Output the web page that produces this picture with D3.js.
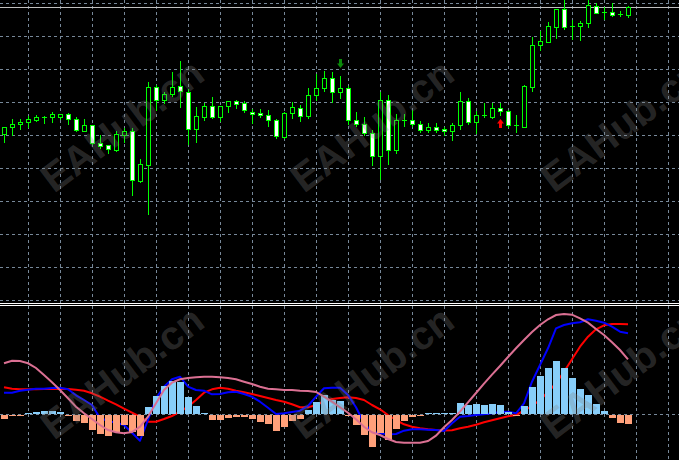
<!DOCTYPE html>
<html><head><meta charset="utf-8">
<script src="https://cdn.jsdelivr.net/npm/d3@7"></script>
<style>html,body{margin:0;padding:0;background:#000;overflow:hidden}</style>
</head><body>
<script>
// ---- candle data (price units) ----
const opens  = [166.3,172.7,175.7,177.7,180.3,183,182.7,182.7,186,180.7,169.3,174.7,156.7,154.7,150.3,165.3,168.7,119,134.7,212.7,199.7,205.7,213.7,207.7,170.7,183.3,193.7,182.7,193.7,198.7,196.7,187.7,186.7,184.7,179.7,162.7,186.7,191.7,183.7,204.7,211.7,221.7,207.7,211.7,179.7,175.7,166.7,143.7,199.7,149.7,179.7,179.7,175.7,169.7,172.7,171.3,168.7,174.7,198.7,178.3,184.7,183.3,191.7,188.7,174.7,173.3,213.3,254.7,258.3,273.3,290.7,273.7,273.7,276.7,293.7,287.7,287.7,285.7,284.7];
const highs  = [173,181,181,184,185,184,188,186.3,187,182.7,181,175,164.7,154.7,169,171.7,171.7,140.7,217.7,215,207.7,228,239,210.7,192.7,196.7,203,194,198.7,199.7,198.7,190.7,190.7,189.7,180.7,187.7,197.7,194.7,211.7,226,229,227.7,223.7,213.7,187.7,182.7,169.7,207.7,204.7,185.7,185.7,189.7,178.7,176.7,176.7,172.7,176.7,207.7,201.7,188.7,196.7,196.7,196.7,190,184.7,215,263,268.7,277.7,290.7,300,279.7,278.7,300,296.7,292.7,296.7,288.7,293.7];
const lows   = [158.3,165,171.3,173.3,178.7,177.3,178.3,181,176,168.7,169.3,156.3,152.3,146.7,148.7,157.7,105,117.7,85.7,190,196.7,204,193.3,155.7,158.3,179.7,181.7,178.7,187.7,192.3,187.7,176.7,182.7,173.7,161.7,161.7,181.7,178.7,181.7,199.7,208.7,197.7,201.7,175.7,173.7,164.7,134.7,120.7,135.7,146.7,173.7,173.7,167.7,167.7,167.7,165,160,170.7,176.3,166.7,182.7,181.7,184.7,173.3,168.3,172.7,209.3,249.7,257.7,261.7,270.7,260.7,259.7,272.7,286.7,280.7,283.7,283.7,282.7];
const closes = [172.7,175.7,178,181,183,183,186,185.7,180.7,169.7,174.7,156.7,154.3,150.7,165.7,168.7,119.7,135.7,212.7,199.7,205.7,212.7,208.7,170.7,183.7,193.7,182.7,193.7,198.7,196.3,189.7,185.7,184.7,179.7,163.7,186.7,192.7,183.7,204.7,211.7,221.7,207.7,211.7,179.7,175.7,166.7,143.7,199.7,149.7,179.7,179.7,175.7,169.7,172.7,169.7,169.3,174.7,199.3,178.3,184.7,184.7,191.7,188.7,174.7,174.7,214,254.7,258.7,273.7,290.7,272.7,273.7,276.7,294.7,286.7,287.7,284.7,285.7,292.7];

// ---- indicator data ----
const histValues = [-5.3,-2.3,-0.7,1,1.7,3.3,3.3,2,-2,-7.3,-9.3,-16.3,-20.3,-22.3,-18.3,-11.3,-18.3,-22.3,6.7,18.3,27.7,32.7,31.7,16.7,7.7,1,-6.3,-6.3,-4.3,-3.3,-3.3,-5.3,-8.3,-10.3,-17.3,-13.3,-7.3,-5.3,3.7,11.7,18.7,14,13,-1,-11.3,-21.3,-33,-19.3,-26.3,-15.3,-7.3,-3.3,-1.3,1,1,0.7,1.3,11.3,9.3,10.3,9,10.3,9,2.3,-2.3,8.3,27.3,38.3,46.3,53.3,46.3,36.3,25.3,19.3,10.3,3.3,-4.3,-9.3,-10.3];
const blueLine = [21.3,21.3,23.3,24.3,25.3,25.3,26,26.3,24.7,18.7,14,9,-4,-7,-8.7,-11,-18.7,-26.7,-6,15.7,27.3,34.7,37.3,27.3,24,23.3,19.7,20,21.7,22.3,20,17.3,12.3,6.3,0,0.7,2,3.3,8,17.3,25.7,26.3,26.3,19,6.7,-9.3,-17.7,-19.3,-20.3,-20,-16.7,-15.3,-15.3,-15.7,-16,-17,-9.3,-2.7,-2,-1,-0.3,0.7,2,2.3,0.7,10.7,32.3,49,65.7,85.7,89,90.7,91.7,94.7,93.3,91.3,87.3,82.3,80.7];
const redLine = [26.7,25.3,24.7,24.7,24.7,25,25,25.3,25,24.3,23.3,20.7,17.3,13.3,9.7,5.3,1.3,-2.7,-7.7,-7.7,-5,-2,2.3,7.3,14,21.3,24.7,26.3,25.3,23.3,21.7,20,18,16,14,12.3,9.7,6.7,6.7,8.7,13,15,16,16.7,16,14,9,4.7,-1,-6,-10.3,-12.7,-14.3,-15.3,-16,-16.5,-16.3,-14.3,-12.7,-10.7,-8.3,-6.3,-4.3,-2.3,-1,3.3,8,14,22,30.7,42.3,54.7,67.3,77.3,84.7,88.7,90,90,89.7];
const pinkLine = [50.7,53.3,53,50.7,46,39,31.7,24,15.7,7.3,0.7,-5,-11,-16,-18.3,-19.3,-18,-12.7,-2.7,10.7,24,31.3,34.7,36,36.7,37.3,37.3,36.8,36,34.7,32.3,30,27.3,25.3,24.7,24,24,23.3,23,22,17.3,12.3,6.7,1.3,-5.3,-12.7,-18.3,-21,-25,-28,-28.7,-28.7,-28.7,-27,-21.7,-13.3,-6,2.3,11.7,21,30.3,39.3,48,57,65.7,74,82,89,94.7,99,100,99.3,95.7,91.3,85,79,71.7,64,54.7];

// signal arrows: [candle index, price at arrow tip]
const downArrows = [[42, 232]];
const upArrows = [[62, 181]];
const watermarkText = "EAHub.cn";

const W = 679, H = 460;
const svg = d3.select("body").append("svg").attr("width", W).attr("height", H)
  .style("display","block").style("background","#000");

const n = closes.length;
const x = d3.scaleLinear().domain([0, n - 1]).range([4, 4 + 8 * (n - 1)]);
const yTop = d3.scaleLinear().domain([0, 300]).range([300, 0]);
const yBot = d3.scaleLinear().domain([0, 100]).range([414, 314]);
const px = v => Math.round(v) + 0.5;

const gridColor = "#778899";
const dash = "3,3";
const grid = svg.append("g");
// vertical grid
d3.range(3, n + 6, 4).forEach(i => {
  const gx = px(x(i));
  if (gx > W) return;
  grid.append("line").attr("x1", gx).attr("x2", gx).attr("y1", 0).attr("y2", H)
    .attr("stroke", gridColor).attr("stroke-dasharray", dash);
});
// horizontal grid in price window
d3.range(0, 298, 33).forEach(v => {
  const gy = px(yTop(v));
  grid.append("line").attr("x1", 0).attr("x2", W).attr("y1", gy).attr("y2", gy)
    .attr("stroke", gridColor).attr("stroke-dasharray", dash);
});
// zero line in indicator window
grid.append("line").attr("x1", 0).attr("x2", W).attr("y1", px(yBot(0))).attr("y2", px(yBot(0)))
  .attr("stroke", gridColor).attr("stroke-dasharray", dash);

// window separator
svg.append("rect").attr("x", 0).attr("y", 303).attr("width", W).attr("height", 1).attr("fill", "#fff");
svg.append("rect").attr("x", 0).attr("y", 305).attr("width", W).attr("height", 1).attr("fill", "#fff");

// bid line
svg.append("line").attr("x1", 0).attr("x2", W).attr("y1", px(yTop(closes[n-1]))).attr("y2", px(yTop(closes[n-1])))
  .attr("stroke", "#c0c0c0");

// candles
const cg = svg.append("g");
const idx = d3.range(n);
cg.selectAll("line.wick").data(idx).join("line")
  .attr("x1", i => px(x(i))).attr("x2", i => px(x(i)))
  .attr("y1", i => Math.round(yTop(highs[i]))).attr("y2", i => Math.round(yTop(lows[i])) + 1)
  .attr("stroke", "#00ff00");
cg.selectAll("rect.body").data(idx.filter(i => Math.abs(opens[i] - closes[i]) >= 1.5)).join("rect")
  .attr("x", i => Math.round(x(i)) - 2 + 0.5)
  .attr("width", 4)
  .attr("y", i => Math.round(yTop(Math.max(opens[i], closes[i]))) + 0.5)
  .attr("height", i => Math.round(yTop(Math.min(opens[i], closes[i]))) - Math.round(yTop(Math.max(opens[i], closes[i]))))
  .attr("fill", i => closes[i] > opens[i] ? "#000" : "#fff")
  .attr("stroke", "#00ff00");
cg.selectAll("line.doji").data(idx.filter(i => Math.abs(opens[i] - closes[i]) < 1.5)).join("line")
  .attr("x1", i => Math.round(x(i)) - 2).attr("x2", i => Math.round(x(i)) + 3)
  .attr("y1", i => px(yTop(closes[i]))).attr("y2", i => px(yTop(closes[i])))
  .attr("stroke", "#00ff00");

// arrows
function arrowPath(cx, tipY, dir) {
  // dir = 1 pointing down (tip at bottom), -1 pointing up
  const s = dir;
  const pts = [[-1.5, -9], [1.5, -9], [1.5, -4.5], [3.5, -4.5], [0, 0], [-3.5, -4.5], [-1.5, -4.5]];
  return "M" + pts.map(p => [cx + 0.5 + p[0], tipY + s * p[1]].join(",")).join("L") + "Z";
}
downArrows.forEach(([i, p]) => svg.append("path").attr("d", arrowPath(Math.round(x(i)), yTop(p), 1)).attr("fill", "#0a8a0a"));
upArrows.forEach(([i, p]) => svg.append("path").attr("d", arrowPath(Math.round(x(i)), yTop(p), -1)).attr("fill", "#ff0000"));

// indicator lines
const lineGen = data => d3.line().x((d, i) => x(i)).y(d => yBot(d))(data);
const lg = svg.append("g").attr("fill", "none").attr("stroke-width", 2).attr("stroke-linejoin", "round");
lg.append("path").attr("d", lineGen(redLine)).attr("stroke", "#ff0000");
lg.append("path").attr("d", lineGen(blueLine)).attr("stroke", "#0000ff");

// histogram
svg.append("g").selectAll("rect").data(idx).join("rect")
  .attr("x", i => Math.round(x(i)) - 3)
  .attr("width", 7)
  .attr("y", i => histValues[i] >= 0 ? Math.round(yBot(histValues[i])) : 415)
  .attr("height", i => Math.max(1, Math.abs(Math.round(yBot(histValues[i])) - (histValues[i] >= 0 ? 414 : 415))))
  .attr("fill", i => histValues[i] >= 0 ? "#87cefa" : "#ffa07a");

svg.append("path").attr("d", lineGen(pinkLine)).attr("fill", "none").attr("stroke", "#db7093").attr("stroke-width", 2);

// watermark
const wm = svg.append("g").attr("pointer-events", "none");
[[122, 125], [372, 125], [622, 125], [122, 372], [372, 372], [622, 372]].forEach(([cx, cy]) => {
  wm.append("text").attr("transform", `translate(${cx},${cy}) rotate(-37)`)
    .attr("text-anchor", "middle").attr("dominant-baseline", "central")
    .attr("font-family", "Liberation Sans, Arial, sans-serif").attr("font-weight", "bold")
    .attr("font-size", 40).attr("fill", "#808080").attr("fill-opacity", 0.3)
    .text(watermarkText);
});
</script>
</body></html>
